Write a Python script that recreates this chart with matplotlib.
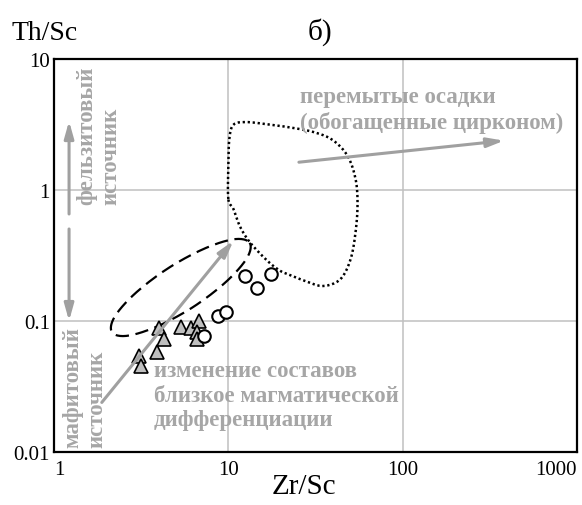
import numpy as np
import matplotlib
matplotlib.use("Agg")
import matplotlib.pyplot as plt

plt.rcParams['font.family'] = ['Liberation Serif', 'DejaVu Serif']

# samples: triangles (gray) and circles (open)
tri_zr_sc = [4.01, 4.29, 3.09, 3.15, 3.89, 5.37, 6.12, 6.75, 6.61, 6.61]
tri_th_sc = [0.088, 0.073, 0.0543, 0.0456, 0.0577, 0.0906, 0.089, 0.0995, 0.082, 0.073]
circ_zr_sc = [12.5, 14.6, 17.6, 8.68, 9.66, 7.28]
circ_th_sc = [0.222, 0.178, 0.229, 0.110, 0.118, 0.0764]

# field outlines (Zr/Sc, Th/Sc)
dash_x = [13.25, 12.76, 9.70, 6.29, 3.90, 2.63, 2.15, 2.23, 2.93, 4.52, 7.29, 10.8]
dash_y = [0.395, 0.301, 0.199, 0.128, 0.0908, 0.0771, 0.0822, 0.108, 0.163, 0.253, 0.357, 0.421]
dot_x = [10.0, 10.0, 10.13, 10.68, 12.5, 16.3, 22.7, 30.8, 39.6, 48.3, 53.7, 55.1,
         53.7, 50.3, 44.0, 35.2, 28.4, 22.7, 19.9, 16.8, 13.4, 11.7, 10.7]
dot_y = [0.853, 1.52, 2.45, 3.14, 3.30, 3.19, 3.00, 2.77, 2.41, 1.82, 1.21, 0.78,
         0.478, 0.297, 0.209, 0.185, 0.199, 0.224, 0.241, 0.287, 0.394, 0.522, 0.716]

# trend arrows: (x0, y0, x1, y1)
arrows = [
    (1.88, 0.0239, 10.7, 0.41),
    (1.22, 0.656, 1.22, 3.36),
    (1.22, 0.504, 1.22, 0.1),
    (25.4, 1.63, 382, 2.38),
]

ticks = [1, 10, 100, 1000]
x_labels = ['1', '10', '100', '1000']
y_ticks = [0.01, 0.1, 1, 10]
y_labels = ['0.01', '0.1', '1', '10']

GRAY = '#a6a6a6'


def smooth_closed(xs, ys, n=20):
    # closed Catmull-Rom in log space
    p = np.column_stack([np.log10(xs), np.log10(ys)])
    m = len(p)
    out = []
    for i in range(m):
        p0, p1, p2, p3 = p[i - 1], p[i], p[(i + 1) % m], p[(i + 2) % m]
        for t in np.linspace(0, 1, n, endpoint=False):
            t2, t3 = t * t, t * t * t
            pt = 0.5 * ((2 * p1) + (-p0 + p2) * t + (2 * p0 - 5 * p1 + 4 * p2 - p3) * t2
                        + (-p0 + 3 * p1 - 3 * p2 + p3) * t3)
            out.append(pt)
    out.append(out[0])
    out = np.array(out)
    return 10 ** out[:, 0], 10 ** out[:, 1]


fig = plt.figure(figsize=(5.82, 5.06), dpi=100)
ax = fig.add_axes([54 / 582, 1 - 453 / 506, 523 / 582, 393 / 506])
ax.set_xscale('log')
ax.set_yscale('log')
ax.set_xlim(1, 1000)
ax.set_ylim(0.01, 10)

ax.set_xticks(ticks)
ax.set_xticklabels(x_labels)
ax.set_yticks(y_ticks)
ax.set_yticklabels(y_labels)
ax.minorticks_off()
ax.tick_params(length=0, labelsize=15, pad=6)
ax.tick_params(axis='y', pad=3)
xl = ax.get_xticklabels()
xl[0].set_ha('left')
xl[-1].set_ha('right')
ax.grid(True, color='#c0c0c0', lw=1.1)
ax.set_axisbelow(True)
for s in ax.spines.values():
    s.set_linewidth(1.6)

# gray trend arrows
for x0, y0, x1, y1 in arrows:
    ax.annotate('', xy=(x1, y1), xytext=(x0, y0),
                arrowprops=dict(arrowstyle='-|>,head_length=1.0,head_width=0.28',
                                color='#a0a0a0', lw=2.2, shrinkA=0, shrinkB=0))

# fields
sx, sy = smooth_closed(dash_x, dash_y)
ax.plot(sx, sy, color='black', lw=1.6, dashes=(6, 3))
sx, sy = smooth_closed(dot_x, dot_y, n=12)
ax.plot(sx, sy, color='black', lw=1.8, dashes=(0.9, 1.1))

ax.plot(tri_zr_sc, tri_th_sc, '^', ms=9.5, mfc='#bfbfbf', mec='black', mew=1.2, ls='none')
ax.plot(circ_zr_sc, circ_th_sc, 'o', ms=9, mfc='white', mec='black', mew=1.5, ls='none')

# annotations
tkw = dict(color=GRAY, fontweight='bold', fontsize=16.5, linespacing=1.22)
ax.text(300 / 582, 1 - 87 / 506, 'перемытые осадки\n(обогащенные цирконом)',
        transform=fig.transFigure, ha='left', va='top', **tkw)
ax.text(154 / 582, 1 - 361 / 506, 'изменение составов\nблизкое магматической\nдифференциации',
        transform=fig.transFigure, ha='left', va='top', **tkw)
ax.text(76 / 582, 1 - 205 / 506, 'фельзитовый\nисточник', rotation=90,
        transform=fig.transFigure, ha='left', va='bottom', multialignment='left', **tkw)
ax.text(62 / 582, 1 - 448 / 506, 'мафитовый\nисточник', rotation=90,
        transform=fig.transFigure, ha='left', va='bottom', multialignment='left', **tkw)

fig.text(11 / 582, 1 - 40 / 506, 'Th/Sc', fontsize=20, ha='left', va='baseline')
fig.text(320 / 582, 1 - 40 / 506, 'б)', fontsize=21, ha='center', va='baseline')
fig.text(304 / 582, 1 - 487 / 506, 'Zr/Sc', fontsize=21, ha='center', va='center')

fig.savefig('out.png', dpi=100)
